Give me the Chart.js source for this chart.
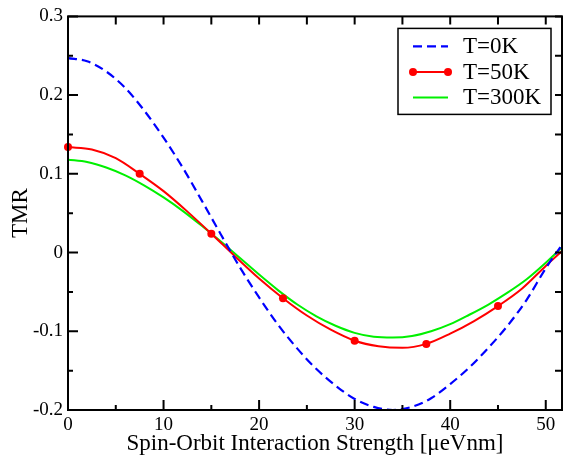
<!DOCTYPE html>
<html>
<head>
<meta charset="utf-8">
<script src="https://cdn.jsdelivr.net/npm/chart.js@4.4.0/dist/chart.umd.min.js"></script>
<style>
html,body{margin:0;padding:0;background:#fff;}
#wrap{width:566px;height:457px;position:relative;}
</style>
</head>
<body>
<div id="wrap"><canvas id="c" width="566" height="457"></canvas></div>
<script>
// ---- data ----
const seriesLabels = ['T=0K', 'T=50K', 'T=300K'];
const xTitle = 'Spin-Orbit Interaction Strength [\u03bceVnm]';
const yTitle = 'TMR';

const xTicks = [0, 10, 20, 30, 40, 50];
const xMinorTicks = [5, 15, 25, 35, 45];
const yTicks = [-0.2, -0.1, 0, 0.1, 0.2, 0.3];
const yTickLabels = ['-0.2', '-0.1', '0', '0.1', '0.2', '0.3'];
const yMinorTicks = [-0.15, -0.05, 0.05, 0.15, 0.25];

const blueX = [0, 2, 4, 6, 8, 10, 12, 14, 16, 18, 20, 22, 24, 26, 28, 30, 32, 34, 36, 38, 40, 42, 44, 46, 48, 50, 52];
const blueY = [0.247, 0.243, 0.230, 0.209, 0.180, 0.146, 0.108, 0.066, 0.023, -0.019, -0.057, -0.092, -0.122, -0.148, -0.169, -0.186, -0.196, -0.200, -0.196, -0.185, -0.167, -0.146, -0.121, -0.093, -0.060, -0.020, 0.015];

const redX = [0, 2.5, 5, 7.5, 10, 12.5, 15, 17.5, 20, 22.5, 25, 27.5, 30, 32.5, 35, 37.5, 40, 42.5, 45, 47.5, 50, 52];
const redY = [0.134, 0.131, 0.120, 0.100, 0.078, 0.052, 0.024, -0.005, -0.033, -0.058, -0.080, -0.098, -0.112, -0.119, -0.121, -0.116, -0.103, -0.087, -0.068, -0.046, -0.017, 0.005];
const redMarkerX = [0, 7.5, 15, 22.5, 30, 37.5, 45];

const greenX = [0, 2, 4, 6, 8, 10, 12, 14, 16, 18, 20, 22, 24, 26, 28, 30, 32, 34, 36, 38, 40, 42, 44, 46, 48, 50, 52];
const greenY = [0.118, 0.115, 0.108, 0.098, 0.085, 0.070, 0.053, 0.034, 0.014, -0.007, -0.028, -0.048, -0.066, -0.081, -0.093, -0.102, -0.107, -0.108, -0.106, -0.100, -0.091, -0.079, -0.066, -0.051, -0.034, -0.013, 0.010];

const xMin = 0, xMax = 51.7, yMin = -0.2, yMax = 0.3;

// ---- build ----
const pts = (xs, ys) => xs.map((x, i) => ({x: x, y: ys[i]}));
const FONT = "'Liberation Serif', 'Times New Roman', serif";
const CLIP = {left: 8, right: 0, top: 0, bottom: 0};

const frameTicks = {
  id: 'frameTicks',
  afterDatasetsDraw(chart) {
    const ctx = chart.ctx, a = chart.chartArea;
    const xs = chart.scales.x, ys = chart.scales.y;
    ctx.save();
    ctx.strokeStyle = '#000';
    ctx.lineWidth = 2;
    ctx.beginPath();
    const tk = (x1, y1, x2, y2) => { ctx.moveTo(x1, y1); ctx.lineTo(x2, y2); };
    xTicks.forEach(v => { const p = xs.getPixelForValue(v); tk(p, a.bottom, p, a.bottom - 10); tk(p, a.top, p, a.top + 8); });
    xMinorTicks.forEach(v => { const p = xs.getPixelForValue(v); tk(p, a.bottom, p, a.bottom - 5); tk(p, a.top, p, a.top + 8); });
    yTicks.forEach(v => { const p = ys.getPixelForValue(v); tk(a.left, p, a.left + 10, p); tk(a.right, p, a.right - 7, p); });
    yMinorTicks.forEach(v => { const p = ys.getPixelForValue(v); tk(a.left, p, a.left + 5, p); tk(a.right, p, a.right - 7, p); });
    ctx.stroke();
    ctx.strokeRect(a.left, a.top, a.right - a.left, a.bottom - a.top);

    // legend
    const R = a.right - 11, by = a.top + 12, bw = 153, bh = 86;
    const L = R - bw;
    ctx.fillStyle = '#fff';
    ctx.fillRect(L, by, bw, bh);
    ctx.lineWidth = 1.5;
    ctx.strokeStyle = '#000';
    ctx.strokeRect(L, by, bw, bh);
    chart.data.datasets.forEach((ds, i) => {
      const y = by + 18 + i * 25.5;
      const x1 = L + 15, x2 = L + 50;
      ctx.strokeStyle = ds.borderColor;
      ctx.lineWidth = ds.borderWidth;
      ctx.setLineDash(ds.borderDash || []);
      ctx.beginPath(); ctx.moveTo(x1, y); ctx.lineTo(x2, y); ctx.stroke();
      ctx.setLineDash([]);
      if (ds.legendMarker) {
        ctx.fillStyle = ds.borderColor;
        [x1, x2].forEach(x => { ctx.beginPath(); ctx.arc(x, y, 4, 0, Math.PI * 2); ctx.fill(); });
      }
      ctx.fillStyle = '#000';
      ctx.font = '23px ' + FONT;
      ctx.textBaseline = 'middle';
      ctx.textAlign = 'left';
      ctx.fillText(ds.label, L + 65, y + 1);
    });
    ctx.restore();
  }
};

new Chart(document.getElementById('c'), {
  type: 'line',
  data: {
    datasets: [
      { label: seriesLabels[0], data: pts(blueX, blueY), borderColor: '#0000ff', borderWidth: 2.2, borderDash: [9, 5], pointRadius: 0, cubicInterpolationMode: 'monotone', clip: CLIP },
      { label: seriesLabels[1], data: pts(redX, redY), borderColor: '#ff0000', backgroundColor: '#ff0000', borderWidth: 2, legendMarker: true,
        pointRadius: ctx => (ctx.raw && redMarkerX.includes(ctx.raw.x)) ? 4 : 0, pointBorderWidth: 0, cubicInterpolationMode: 'monotone', clip: CLIP },
      { label: seriesLabels[2], data: pts(greenX, greenY), borderColor: '#00f000', borderWidth: 2, pointRadius: 0, cubicInterpolationMode: 'monotone', clip: CLIP }
    ]
  },
  options: {
    responsive: false,
    animation: false,
    devicePixelRatio: 1,
    layout: { padding: { top: 13, right: 2, left: 0, bottom: 0 } },
    plugins: { legend: { display: false }, tooltip: { enabled: false } },
    scales: {
      x: {
        type: 'linear', min: xMin, max: xMax,
        afterBuildTicks: s => { s.ticks = xTicks.map(v => ({value: v})); },
        afterFit: s => { s.height = 47; },
        grid: { display: false, drawTicks: false },
        border: { display: false },
        ticks: { color: '#000', font: { family: FONT, size: 19 }, padding: 4, maxRotation: 0, callback: v => String(v) },
        title: { display: true, text: xTitle, color: '#000', font: { family: FONT, size: 23, lineHeight: 1 }, padding: { top: 0, bottom: 2 } }
      },
      y: {
        type: 'linear', min: yMin, max: yMax,
        afterBuildTicks: s => { s.ticks = yTicks.map(v => ({value: v})); },
        afterFit: s => { s.width = 68; },
        grid: { display: false, drawTicks: false },
        border: { display: false },
        ticks: { color: '#000', font: { family: FONT, size: 19 }, padding: 5, callback: (v) => { const i = yTicks.findIndex(t => Math.abs(t - v) < 1e-9); return i >= 0 ? yTickLabels[i] : ''; } },
        title: { display: true, text: yTitle, color: '#000', font: { family: FONT, size: 23, lineHeight: 1 }, padding: { top: 9, bottom: 0 } }
      }
    }
  },
  plugins: [frameTicks]
});
</script>
</body>
</html>
